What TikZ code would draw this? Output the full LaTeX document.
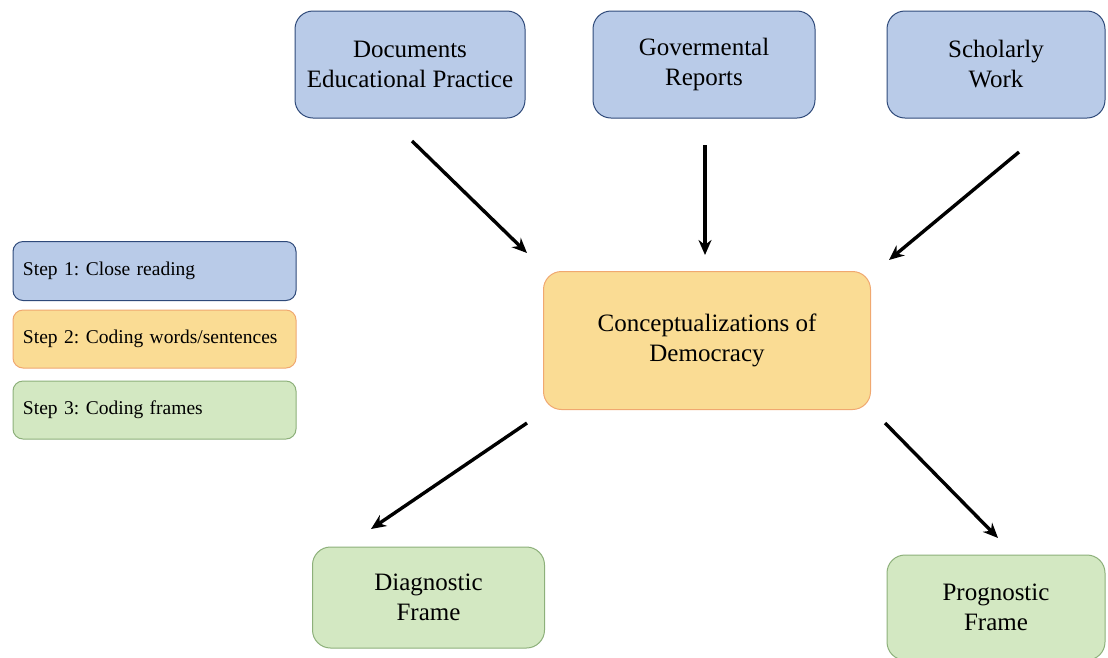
\documentclass[tikz,border=0pt]{standalone}
\usepackage{fontspec}
\setmainfont{Liberation Serif}
\usetikzlibrary{arrows.meta,positioning}
\frenchspacing

\definecolor{bfill}{HTML}{B9CBE8}
\definecolor{bdraw}{HTML}{2F4A7A}
\definecolor{ofill}{HTML}{FADC94}
\definecolor{odraw}{HTML}{F0A870}
\definecolor{gfill}{HTML}{D3E8C2}
\definecolor{gdraw}{HTML}{8DB07A}

\begin{document}
\begin{tikzpicture}[
    x=1pt, y=-1pt,
    bigtxt/.style={font=\fontsize{25}{30}\selectfont, align=center},
    smalltxt/.style={font=\fontsize{19.5}{23}\selectfont, align=left,
        text width=263pt, inner sep=10pt},
    bbox/.style={rectangle, rounded corners=18pt, draw=bdraw, fill=bfill,
        line width=1pt},
    obox/.style={rectangle, rounded corners=18pt, draw=odraw, fill=ofill,
        line width=1pt},
    gbox/.style={rectangle, rounded corners=18pt, draw=gdraw, fill=gfill,
        line width=1pt},
    arr/.style={-{Stealth[length=15pt,width=13pt]}, line width=3.4pt, black},
    ]

    \useasboundingbox[fill=white] (0,0) rectangle (1108,657);

    %sources
    \node[bbox, bigtxt, minimum width=230pt, minimum height=107pt] (docs)
        at (410,64.5) {Documents\\Educational Practice};
    \node[bbox, bigtxt, minimum width=222pt, minimum height=107pt] (gov)
        at (704,64.5) {Govermental\\Reports};
    \node[bbox, bigtxt, minimum width=218pt, minimum height=107pt] (schol)
        at (996,64.5) {Scholarly\\Work};

    %legend
    \node[bbox, smalltxt, rounded corners=10pt, minimum height=59pt] (step1)
        at (154.5,271) {Step 1: Close reading};
    \node[obox, smalltxt, rounded corners=10pt, minimum height=58pt] (step2)
        at (154.5,339) {Step 2: Coding words/sentences};
    \node[gbox, smalltxt, rounded corners=10pt, minimum height=58pt] (step3)
        at (154.5,410) {Step 3: Coding frames};

    %centre
    \node[obox, bigtxt, minimum width=327pt, minimum height=138pt] (concept)
        at (707,340.5) {Conceptualizations of\\Democracy};

    %frames
    \node[gbox, bigtxt, minimum width=232pt, minimum height=101pt] (diag)
        at (428.5,597.5) {Diagnostic\\Frame};
    \node[gbox, bigtxt, minimum width=218pt, minimum height=105pt] (prog)
        at (996,607.5) {Prognostic\\Frame};

    %arrow ends
    \coordinate (a1) at (412,141);
    \coordinate (a2) at (527,253);
    \coordinate (b1) at (705,145);
    \coordinate (b2) at (705,255);
    \coordinate (c1) at (1019,152);
    \coordinate (c2) at (889,260);
    \coordinate (d1) at (527,423);
    \coordinate (d2) at (371,529);
    \coordinate (e1) at (885,423);
    \coordinate (e2) at (998,538);

    \draw[arr] (a1) -- (a2);
    \draw[arr] (b1) -- (b2);
    \draw[arr] (c1) -- (c2);
    \draw[arr] (d1) -- (d2);
    \draw[arr] (e1) -- (e2);

\end{tikzpicture}
\end{document}
